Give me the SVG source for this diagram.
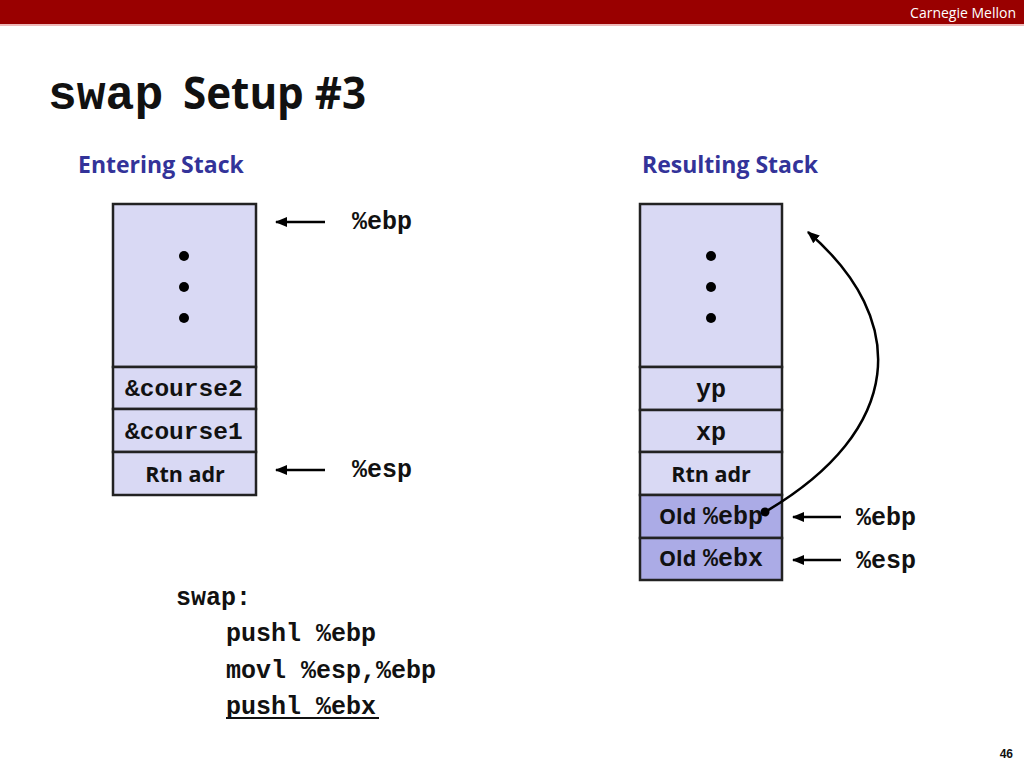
<svg xmlns="http://www.w3.org/2000/svg" width="1024" height="768" viewBox="0 0 1024 768">
<defs>
<style>
.cell{fill:#D9D9F4;stroke:#222;stroke-width:2.5}
.dark{fill:#ABABE6;stroke:#222;stroke-width:2.5}
.mono{font-family:"Liberation Mono","Courier New",monospace;font-weight:bold;fill:#111}
.sans{font-family:"Open Sans","Liberation Sans",sans-serif;font-weight:bold;fill:#111}
.head{font-family:"Open Sans","Liberation Sans",sans-serif;font-weight:bold;fill:#333399;font-size:23px}
.arr{stroke:#000;stroke-width:2.5;fill:none}
</style>
<marker id="ah" viewBox="0 0 10 10" refX="9" refY="5" markerWidth="5" markerHeight="5" orient="auto">
<path d="M0,1 L10,5 L0,9 Z" fill="#000"/>
</marker>
</defs>
<rect x="0" y="0" width="1024" height="768" fill="#fff"/>
<rect x="0" y="0" width="1024" height="24" fill="#990000"/>
<line x1="0" y1="25" x2="1024" y2="25" stroke="#E8A0A0" stroke-width="1.5"/>
<text x="1016" y="18" text-anchor="end" font-family="Open Sans,Liberation Sans,sans-serif" font-size="14" fill="#fff">Carnegie Mellon</text>
<text x="48" y="109" class="mono" font-size="48">swap</text>
<text x="183" y="109" class="sans" font-size="44" textLength="183" lengthAdjust="spacingAndGlyphs">Setup #3</text>
<text x="78" y="173" class="head">Entering Stack</text>
<text x="642" y="173" class="head">Resulting Stack</text>

<g id="left-stack">
<rect class="cell" x="113" y="204" width="143" height="163"/>
<circle cx="184" cy="256" r="5" fill="#000"/>
<circle cx="184" cy="287" r="5" fill="#000"/>
<circle cx="184" cy="318" r="5" fill="#000"/>
</g>
<g id="l-course2"><rect class="cell" x="113" y="367" width="143" height="42"/><text x="125" y="396" class="mono" font-size="24.5">&amp;course2</text></g>
<g id="l-course1"><rect class="cell" x="113" y="409" width="143" height="43"/><text x="125" y="439" class="mono" font-size="24.5">&amp;course1</text></g>
<g id="l-rtn"><rect class="cell" x="113" y="452" width="143" height="43"/><text x="185" y="482" class="sans" font-size="21.5" text-anchor="middle">Rtn adr</text></g>

<g id="right-stack">
<rect class="cell" x="640" y="204" width="142" height="163"/>
<circle cx="711" cy="256" r="5" fill="#000"/>
<circle cx="711" cy="287" r="5" fill="#000"/>
<circle cx="711" cy="318" r="5" fill="#000"/>
</g>
<g id="r-yp"><rect class="cell" x="640" y="367" width="142" height="43"/><text x="711" y="397" class="mono" font-size="25" text-anchor="middle">yp</text></g>
<g id="r-xp"><rect class="cell" x="640" y="410" width="142" height="42"/><text x="711" y="440" class="mono" font-size="25" text-anchor="middle">xp</text></g>
<g id="r-rtn"><rect class="cell" x="640" y="452" width="142" height="43"/><text x="711" y="482" class="sans" font-size="21.5" text-anchor="middle">Rtn adr</text></g>
<g id="r-oldebp"><rect class="dark" x="640" y="495" width="142" height="43"/><text x="659" y="524" class="sans" font-size="21.5">Old</text><text x="703" y="524" class="mono" font-size="25">%ebp</text></g>
<g id="r-oldebx"><rect class="dark" x="640" y="538" width="142" height="42"/><text x="659" y="566" class="sans" font-size="21.5">Old</text><text x="703" y="566" class="mono" font-size="25">%ebx</text></g>

<g id="labels">
<text x="352" y="229" class="mono" font-size="25">%ebp</text>
<text x="352" y="477" class="mono" font-size="25">%esp</text>
<text x="856" y="525" class="mono" font-size="25">%ebp</text>
<text x="856" y="568" class="mono" font-size="25">%esp</text>
</g>

<g id="connectors">
<line class="arr" x1="325" y1="222" x2="276" y2="222" marker-end="url(#ah)"/>
<line class="arr" x1="325" y1="470" x2="276" y2="470" marker-end="url(#ah)"/>
<line class="arr" x1="841" y1="517" x2="793" y2="517" marker-end="url(#ah)"/>
<line class="arr" x1="841" y1="560" x2="793" y2="560" marker-end="url(#ah)"/>
<circle cx="765" cy="512" r="4.5" fill="#000"/>
<path class="arr" d="M765,512 C905,430 910,320 808,232" marker-end="url(#ah)"/>
</g>

<g id="code">
<text x="176" y="605" class="mono" font-size="25">swap:</text>
<text x="226" y="641" class="mono" font-size="25">pushl %ebp</text>
<text x="226" y="678" class="mono" font-size="25">movl %esp,%ebp</text>
<text x="226" y="714" class="mono" font-size="25">pushl %ebx</text>
<line x1="226" y1="718" x2="379" y2="718" stroke="#111" stroke-width="2"/>
</g>
<text x="1013" y="758" text-anchor="end" font-family="Liberation Sans,Arial,sans-serif" font-weight="bold" font-size="12" fill="#111">46</text>
</svg>
